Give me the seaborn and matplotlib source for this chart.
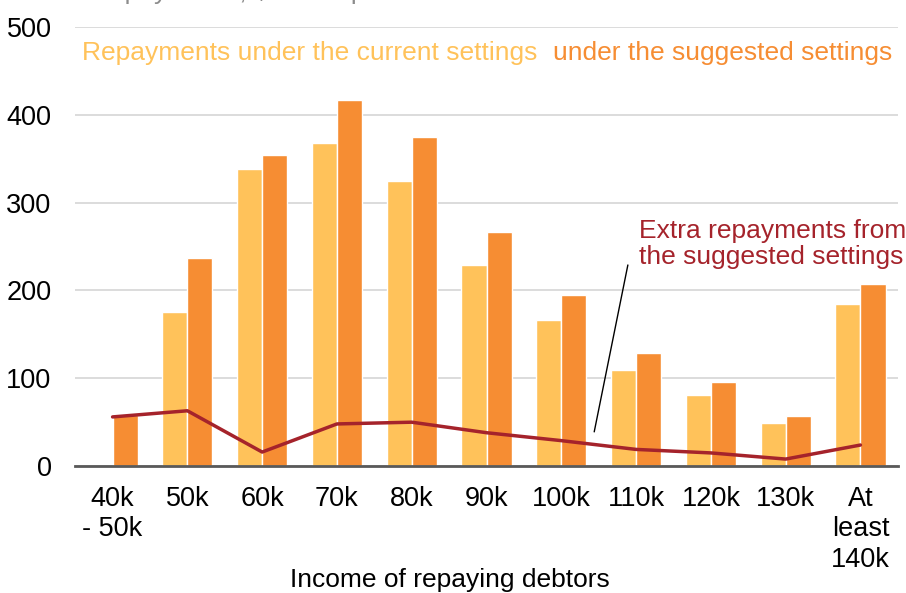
import matplotlib
matplotlib.use("Agg")
import matplotlib.pyplot as plt
import seaborn as sns
import pandas as pd
import numpy as np

categories = ["40k\n- 50k", "50k", "60k", "70k", "80k", "90k", "100k", "110k", "120k", "130k", "At\nleast\n140k"]
current = [0, 175, 338, 368, 325, 229, 166, 109, 81, 49, 185]
suggested = [58, 237, 354, 417, 375, 267, 195, 129, 96, 57, 207]
extra = [56, 63, 16, 48, 50, 38, 29, 19, 15, 8, 24]
yticks = [0, 100, 200, 300, 400, 500]

LIGHT = "#FFC25A"
ORANGE = "#F68D33"
RED = "#A5232B"

sns.set_theme(style="white")
plt.rcParams['font.family'] = ['Liberation Sans', 'DejaVu Sans']

df = pd.DataFrame({
    "cat": categories * 2,
    "value": current + suggested,
    "series": ["current"] * len(categories) + ["suggested"] * len(categories),
})

fig = plt.figure(figsize=(9.06, 5.93), dpi=100)
ax = fig.add_axes([0.083, 0.214, 0.908, 0.7405])

sns.barplot(data=df, x="cat", y="value", hue="series", order=categories,
            hue_order=["current", "suggested"], palette=[LIGHT, ORANGE],
            saturation=1, width=0.67, edgecolor="white", linewidth=1.0,
            legend=False, ax=ax)
sns.lineplot(x=np.arange(len(categories)), y=extra, color=RED, linewidth=2.5, ax=ax)

ax.set_xlim(-0.5, len(categories) - 0.5)
ax.set_ylim(0, 500)
ax.set_yticks(yticks)
ax.set_yticklabels([str(v) for v in yticks], fontsize=19.5, color="black")
ax.yaxis.grid(True, color="#D9D9D9", linewidth=1.3)
ax.set_axisbelow(True)
for s in ["top", "right", "left"]:
    ax.spines[s].set_visible(False)
ax.spines["bottom"].set_color("#595959")
ax.spines["bottom"].set_linewidth(2)
ax.tick_params(axis="y", length=0, pad=17)
ax.tick_params(axis="x", length=0, pad=14)
ax.set_xticks(range(len(categories)))
ax.set_xticklabels(categories, fontsize=19.5, linespacing=1.23, color="black")
ax.set_ylabel("")
ax.set_xlabel("Income of repaying debtors", fontsize=19, color="black")
ax.xaxis.set_label_coords(0.456, -0.26)
ax.xaxis.label.set_va("center")

ax.text(0.008, 0.941, "Repayments under the current settings", transform=ax.transAxes,
        color=LIGHT, fontsize=19, ha="left", va="center")
ax.text(0.581, 0.941, "under the suggested settings", transform=ax.transAxes,
        color=ORANGE, fontsize=19, ha="left", va="center")

ax.text(7.04, 253, "Extra repayments from\nthe suggested settings", color=RED,
        fontsize=19, ha="left", va="center", linespacing=1.1)
ax.plot([6.44, 6.89], [39, 229], color="black", linewidth=1)

fig.text(38 / 906, 1 + 1 / 593, "Total repayments, $million per annum", fontsize=19,
         color="#8C8C8C", ha="left", va="baseline")

fig.savefig("out.png", dpi=100)
